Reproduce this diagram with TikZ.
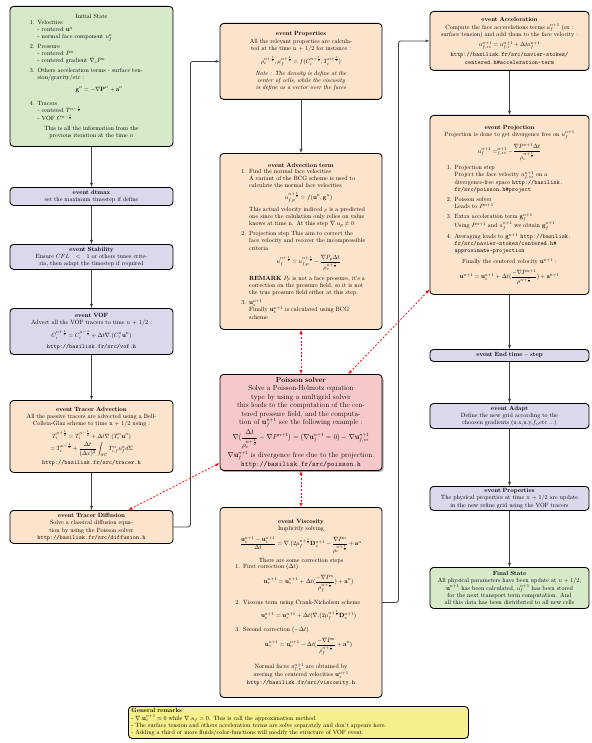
\documentclass[tikz,border=0pt]{standalone}
\usepackage{amsmath}
\usetikzlibrary{calc,shadows}
\newlength{\pxu}
\setlength{\pxu}{0.058cm}
\definecolor{stategreen}{RGB}{214,233,200}
\definecolor{eventlilac}{RGB}{219,216,236}
\definecolor{stepbeige}{RGB}{252,228,204}
\definecolor{solverpink}{RGB}{247,200,202}
\definecolor{noteyellow}{RGB}{246,240,140}
\makeatletter
\def\@listI{\leftmargin\leftmargini\parsep\z@\topsep4pt\partopsep\z@\itemsep4.5pt}
\let\@listi\@listI
\makeatother
\setlength{\lineskiplimit}{1pt}
\setlength{\lineskip}{2pt}
\newcommand{\eqline}[2][7pt]{\par\vspace{#1}{\centering$\displaystyle #2$\par}\vspace{#1}}
\newcommand{\lnk}[1]{\texttt{#1}}
\begin{document}
\begin{tikzpicture}[x=\pxu,y=-\pxu,>=latex,line join=round,
  box/.style={draw,line width=1.4pt,rounded corners=6pt,anchor=north,align=center,inner ysep=2pt},
  lcol/.style={text width=147\pxu,inner xsep=8\pxu},
  mcol/.style={text width=152\pxu,inner xsep=5\pxu},
  rcol/.style={text width=157\pxu,inner xsep=1\pxu},
  statebox/.style={box,fill=stategreen},
  eventbox/.style={box,fill=eventlilac},
  stepbox/.style={box,fill=stepbeige},
  solverbox/.style={box,fill=solverpink,font=\large,
    drop shadow={shadow xshift=2.5pt,shadow yshift=-2.5pt,fill=black!50,opacity=0.7}},
  notebox/.style={draw,line width=1.4pt,rounded corners=6pt,fill=noteyellow,anchor=north west,
    align=left,text width=334\pxu,inner xsep=3\pxu,inner ysep=2pt},
  flow/.style={->,draw=black!75,line width=1.3pt,rounded corners=4pt},
  dep/.style={latex-latex,draw=red,dashed,line width=1.3pt}]
\useasboundingbox (0,0) rectangle (591,743);

\node[statebox,lcol,minimum height=140\pxu] (init) at (91.5,6) {Initial State\\[1pt]
  \begin{minipage}{138\pxu}
  \begin{enumerate}\setlength{\itemsep}{4pt}
  \item Velocities\\
    - centered $\mathbf{u}^n$\\
    - normal face component $u_f^n$
  \item Pressure\\
    - centered $P^n$\\
    - centered gradient $\nabla_c P^n$
  \item Others acceleration terms - surface tension/gravity/etc :
    \eqline{\mathbf{g}^n = -\nabla\mathbf{P}^n + \mathbf{a}^n}
  \item Tracers\\
    - centered $T^{n-\frac12}$\\[1pt]
    - VOF $C^{n-\frac12}$
  \end{enumerate}
  \end{minipage}\\[8pt]
  This is all the information from the\\ previous iteration at the time $n$};
\node[eventbox,lcol,minimum height=18\pxu] (dtmax) at (91.5,187) {\textbf{event dtmax}\\
  set the maximum timestep if define};
\node[eventbox,lcol,minimum height=25\pxu] (stab) at (91.5,244) {\textbf{event Stability}\\
  Ensure $CFL\ <\ 1$ or others tunes crite-\\ria, then adapt the timestep if required};
\node[eventbox,lcol,minimum height=46\pxu] (vof) at (91.5,308) {\textbf{event VOF}\\
  Advect all the VOF tracers to time $n+1/2$ :
  \eqline[6pt]{C_i^{n+\frac12} = C_i^{n-\frac12} + \Delta t\nabla.(C_i^n\mathbf{u}^n)}
  \lnk{http://basilisk.fr/src/vof.h}};
\node[stepbox,lcol,minimum height=72\pxu] (tadv) at (91.5,400) {\textbf{event Tracer Advection}\\
  All the passive tracers are advected using a Bell-\\Colleia-Glaz scheme to time n + 1/2 using :
  \eqline[5pt]{\begin{gathered}
    T_i^{n+\frac12} = T_i^{n-\frac12} + \Delta t\nabla.(T_i^n\mathbf{u}^n)\\
    = T_i^{n-\frac12} + \frac{\Delta t}{(\Delta x)^2}\int_{\partial C} T_{i,f}^n u_f^n d\Sigma
  \end{gathered}}
  \lnk{http://basilisk.fr/src/tracer.h}};
\node[stepbox,lcol,minimum height=33\pxu] (tdiff) at (91.5,510) {\textbf{event Tracer Diffusion}\\
  Solve a classical diffusion equa-\\tion by using the Poisson solver\\
  \lnk{http://basilisk.fr/src/diffusion.h}};

\node[stepbox,mcol,minimum height=76\pxu] (prop) at (301,23) {\textbf{event Properties}\\
  All the relevant properties are calcula-\\ted at the time n + 1/2 for instance :
  \eqline{\rho_c^{n+\frac12}, \mu_f^{n+\frac12} = f(C_i^{n+\frac12}, T_i^{n+\frac12})}
  {\itshape Note : The density is define at the\\ center of cells, while the viscosity\\ is define as a vector over the faces}};
\node[stepbox,mcol,minimum height=176\pxu] (adv) at (301,153) {\textbf{event Advection term}\\[1pt]
  \begin{minipage}{134\pxu}
  \begin{enumerate}
  \item Find the normal face velocities\\
    A variant of the BCG scheme is used to calculate the normal face velocities
    \eqline{u_{f,p}^{n+\frac12} = f(\mathbf{u}^n,\mathbf{g}^n)}
    This actual velocity indiced $_p$ is a predicted one since the calulation only relies on value
    knows at time n. At this step $\nabla.u_p \neq 0$
  \item Projection step This aim to correct the face velocity and recover the incompressible criteria
    \eqline{u_f^{n+\frac12} = u_{f,p}^{n+\frac12} - \frac{\nabla P_p\Delta t}{\rho_c^{n+\frac12}}}
    \textbf{REMARK} $P_p$ is not a face pressure, it's a correction on the pressure field, so it is
    not the true pressure field either at this step.
  \item $\mathbf{u}_*^{n+1}$\\
    Finally $\mathbf{u}_*^{n+1}$ is calculated using BCG scheme
  \end{enumerate}
  \end{minipage}};
\node[solverbox,mcol,minimum height=96\pxu] (poisson) at (301,374) {\textbf{Poisson solver}\\
  Solve a Poisson-Helmotz equation\\
  type by using a multigrid solver\\
  this leads to the computation of the cen-\\
  tered pressure field, and the computa-\\
  tion of $\mathbf{u}_f^{n+1}$ see the following example :
  \eqline[3pt]{\nabla(\frac{\Delta t}{\rho_c^{n+\frac12}} - \nabla P^{n+1}) = (\nabla\mathbf{u}_f^{n+1} = 0) - \nabla\mathbf{u}_{f,**}^{n+1}}
  $\nabla\mathbf{u}_f^{n+1}$ is divergence free due to the projection.\\
  \lnk{http://basilisk.fr/src/poisson.h}};
\node[stepbox,mcol,minimum height=190\pxu] (visc) at (301,507) {\textbf{event Viscosity}\\
  Implicitly solving
  \eqline{\frac{\mathbf{u}_v^{n+1} - \mathbf{u}_*^{n+1}}{\Delta t} = \nabla.(2\mu_f^{n+\frac12}\mathbf{D}_v^{n+1} - \frac{\nabla P^n}{\rho_c^{n+\frac12}} + \mathbf{a}^n}
  There are some correction steps\\
  \begin{minipage}{146\pxu}
  \begin{enumerate}
  \item First correction ($\Delta t$)
    \eqline{\mathbf{u}_r^{n+1} = \mathbf{u}_*^{n+1} + \Delta t(\frac{-\nabla P^n}{\rho_f^{n+\frac12}}) + \mathbf{a}^n)}
  \item Viscous term using Crank-Nicholson scheme
    \eqline{\mathbf{u}_v^{n+1} = \mathbf{u}_r^{n+1} + \Delta t(\nabla.(2\mu_f^{n+\frac12}\mathbf{D}_v^{n+1})}
  \item Second correction ($-\Delta t$)
    \eqline{\mathbf{u}_*^{n+1} = \mathbf{u}_v^{n+1} - \Delta t(\frac{-\nabla P^n}{\rho_f^{n+\frac12}} + \mathbf{a}^n)}
  \end{enumerate}
  \end{minipage}\\[5pt]
  Normal faces $u_{f,*}^{n+1}$ are obtained by\\ avering the centered velocities $\mathbf{u}_*^{n+1}$\\
  \lnk{http://basilisk.fr/src/viscosity.h}};

\node[stepbox,rcol,minimum height=59\pxu] (acc) at (509.5,11) {\textbf{event Acceleration}\\
  Compute the face accerelations terms $a_f^{n+1}$ (ex :\\
  surface tension) and add them to the face velocity :
  \eqline[5pt]{u_{f,**}^{n+1} = u_{f,*}^{n+1} + \Delta t a_f^{n+1}}
  \lnk{http://basilisk.fr/src/navier-stokes/}\\
  \lnk{centered.h\#acceleration-term}};
\node[stepbox,rcol,minimum height=179\pxu] (proj) at (509.5,115) {\textbf{event Projection}\\
  Projection is done to get divergence free on $u_f^{n+1}$
  \eqline{u_f^{n+1} =^{n+1}_{f,**} - \frac{\nabla P^{n+1}\Delta t}{\rho_c^{n+\frac12}}}
  \hspace*{-6\pxu}\begin{minipage}{134\pxu}
  \begin{enumerate}
  \item Projection step\\
    Project the face velocity $u_{f,**}^{n+1}$ on a divergence-free space
    \lnk{http://basilisk.\allowbreak fr/src/poisson.h\#project}
  \item Poisson solver\\
    Leads to $P^{n+1}$
  \item Extra acceleration term $\mathbf{g}_f^{n+1}$\\
    Using $P^{n+1}$ and $a_f^{n+1}$ we obtain $\mathbf{g}_f^{n+1}$
  \item Averaging leads to $\mathbf{g}^{n+1}$
    \lnk{http://basilisk.\allowbreak fr/src/navier-stokes/centered.h\#\allowbreak approximate-projection}
  \end{enumerate}
  \end{minipage}\\[6pt]
  Finally the centered velocity $\mathbf{u}^{n+1}$ :
  \eqline{\mathbf{u}^{n+1} = \mathbf{u}_*^{n+1} + \Delta t(\frac{-\nabla P^{n+1}}{\rho^{n+\frac12}}) + \mathbf{a}^{n+1}}};
\node[eventbox,rcol,minimum height=12\pxu] (endt) at (509.5,349) {\textbf{event End time -- step}};
\node[eventbox,rcol,minimum height=25\pxu] (adapt) at (509.5,403) {\textbf{event Adapt}\\
  Define the new grid according to the\\ choosen gradients (u.x,u.y,$f_i$,etc ...)};
\node[eventbox,rcol,minimum height=24\pxu] (prop2) at (509.5,486) {\textbf{event Properties}\\
  The physical properties at time $n+1/2$ are update\\ in the new refine grid using the VOF tracers};
\node[statebox,rcol,minimum height=41\pxu] (final) at (509.5,567) {\textbf{Final State}\\
  All physical parameters have been update at $n+1/2$,\\
  $\mathbf{u}^{n+1}$ has been calculated, $u_f^{n+1}$ has been stored\\
  for the next transport term computation. And\\
  all this data has been distributed to all new cells};

\node[notebox,minimum height=32\pxu] (rem) at (128,706) {\textbf{General remarks}\\
  - $\nabla.\mathbf{u}_c^{n+1} \approx 0$ while $\nabla.u_f = 0$. This is call the approximation method.\\
  - The surface tension and others acceleration terms are solve separately and don't appears here.\\
  - Adding a third or more fluids/color-functions will modify the structure of VOF event.};

\draw[flow] (init) -- (dtmax);
\draw[flow] (dtmax) -- (stab);
\draw[flow] (stab) -- (vof);
\draw[flow] (vof) -- (tadv);
\draw[flow] (tadv) -- (tdiff);
\draw[flow] (tdiff.east) -- ++(17,0) |- (prop.west);
\draw[flow] (prop) -- (adv);
\draw[flow] (visc.east) -- ++(16,0) |- (acc.west);
\draw[flow] (acc) -- (proj);
\draw[flow] (proj) -- (endt);
\draw[flow] (endt) -- (adapt);
\draw[flow] (adapt) -- (prop2);
\draw[flow] (prop2) -- (final);

\draw[dep] (adv) -- (poisson);
\draw[dep] (poisson) -- (visc);
\draw[dep] ($(proj.south west)!0.03!(proj.north west)$) -- ($(poisson.north)!0.58!(poisson.north east)$);
\draw[dep] ($(poisson.south west)!0.08!(poisson.north west)$) -- ($(tdiff.north)!0.45!(tdiff.north east)$);
\end{tikzpicture}
\end{document}
